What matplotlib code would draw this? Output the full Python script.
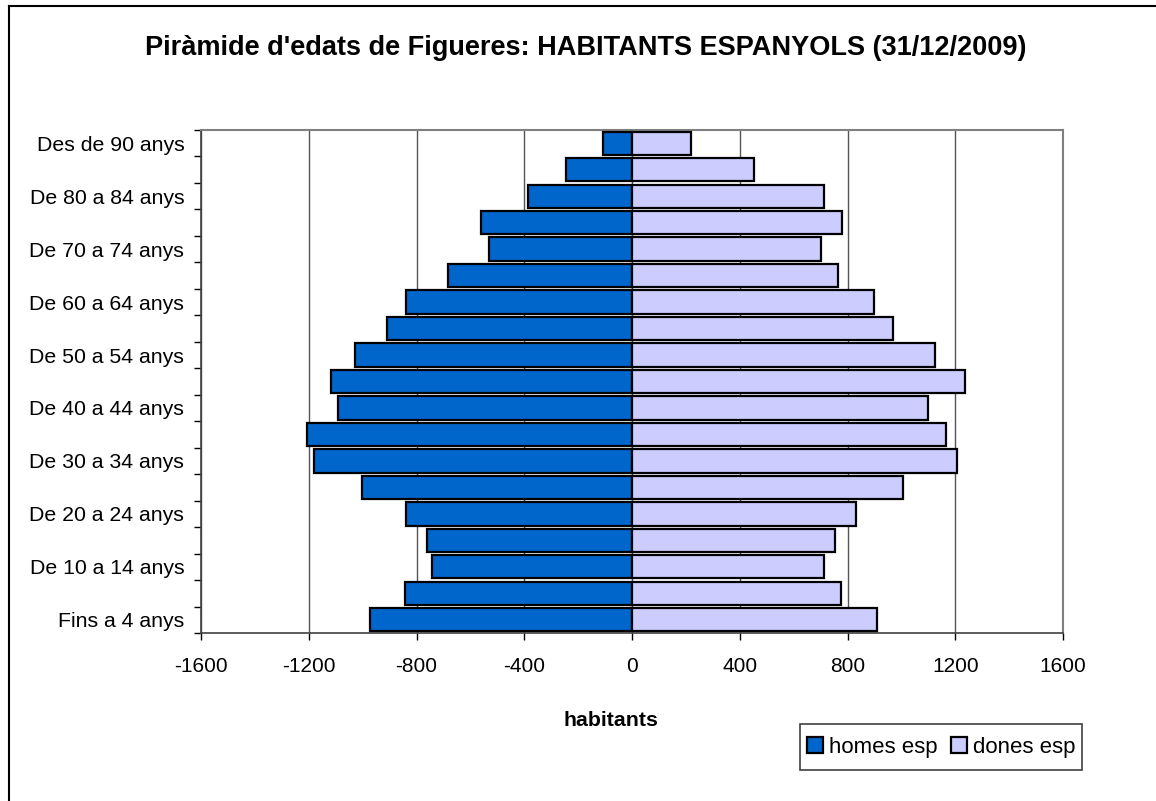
import numpy as np
import matplotlib.pyplot as plt
from matplotlib.lines import Line2D
from matplotlib.patches import Patch, Rectangle

plt.rcParams['font.family'] = ['Liberation Sans', 'DejaVu Sans']

# Grups d'edat (de baix a dalt)
grups = ["Fins a 4 anys", "De 5 a 9 anys", "De 10 a 14 anys", "De 15 a 19 anys",
         "De 20 a 24 anys", "De 25 a 29 anys", "De 30 a 34 anys", "De 35 a 39 anys",
         "De 40 a 44 anys", "De 45 a 49 anys", "De 50 a 54 anys", "De 55 a 59 anys",
         "De 60 a 64 anys", "De 65 a 69 anys", "De 70 a 74 anys", "De 75 a 79 anys",
         "De 80 a 84 anys", "De 85 a 89 anys", "Des de 90 anys"]

homes = [-973, -843, -742, -760, -840, -1003, -1180, -1208, -1093, -1119,
         -1030, -909, -840, -684, -532, -561, -387, -244, -107]
dones = [911, 775, 712, 754, 833, 1007, 1207, 1166, 1099, 1238,
         1125, 968, 900, 765, 701, 778, 711, 453, 220]

xticks = [-1600, -1200, -800, -400, 0, 400, 800, 1200, 1600]

color_homes = '#0066cc'
color_dones = '#ccccff'

W, H = 1156, 801
fig = plt.figure(figsize=(W / 100, H / 100), dpi=100)
ax = fig.add_axes([201/W, 1 - 633/H, (1063 - 201)/W, (633 - 130)/H])

y = np.arange(len(grups))
ax.barh(y, homes, height=0.88, color=color_homes, edgecolor='black', linewidth=1.6, zorder=3)
ax.barh(y, dones, height=0.88, color=color_dones, edgecolor='black', linewidth=1.6, zorder=3)

ax.set_xlim(-1600, 1600)
ax.set_ylim(-0.5, len(grups) - 0.5)

ax.set_xticks(xticks)
ax.set_xticklabels([str(v) for v in xticks], fontsize=15)
ax.tick_params(axis='x', length=5, width=1, direction='out', pad=12)
ax.xaxis.grid(True, color='#555555', linewidth=1, zorder=0)

# marques entre categories, etiquetes cada dues categories
ax.set_yticks(np.arange(-0.5, len(grups), 1))
ax.set_yticklabels([])
ax.tick_params(axis='y', which='major', length=5, width=1, direction='out')
ax.set_yticks(y[::2], minor=True)
ax.set_yticklabels(grups[::2], minor=True, fontsize=15.3)
ax.tick_params(axis='y', which='minor', length=0, pad=12)

for s in ['top', 'right']:
    ax.spines[s].set_color('#808080')
    ax.spines[s].set_linewidth(1.5)
for s in ['left', 'bottom']:
    ax.spines[s].set_color('#404040')
    ax.spines[s].set_linewidth(1.2)

fig.text(586/W, 1 - 48/H, "Piràmide d'edats de Figueres: HABITANTS ESPANYOLS (31/12/2009)",
         ha='center', va='center', fontsize=19.5, fontweight='bold')
fig.text(611/W, 1 - 721/H, "habitants", ha='center', va='center',
         fontsize=15.3, fontweight='bold')

handles = [Patch(facecolor=color_homes, edgecolor='black', linewidth=1.6, label='homes esp'),
           Patch(facecolor=color_dones, edgecolor='black', linewidth=1.6, label='dones esp')]
fig.legend(handles=handles, loc='center', bbox_to_anchor=(941/W, 1 - 747/H),
           ncol=2, fontsize=16, frameon=False, handlelength=0.75,
           handleheight=0.75, handletextpad=0.25, columnspacing=0.6,
           borderpad=0, borderaxespad=0)
fig.add_artist(Rectangle((800/W, 1 - 770/H), 282/W, 46/H, transform=fig.transFigure,
                         fill=False, edgecolor='#404040', linewidth=1.2))

# vora del gràfic
fig.add_artist(Line2D([9/W, 9/W], [0, 1 - 6/H], color='black', linewidth=1.5))
fig.add_artist(Line2D([9/W, 1], [1 - 6/H, 1 - 6/H], color='black', linewidth=1.5))

fig.savefig('out.png', dpi=100)
